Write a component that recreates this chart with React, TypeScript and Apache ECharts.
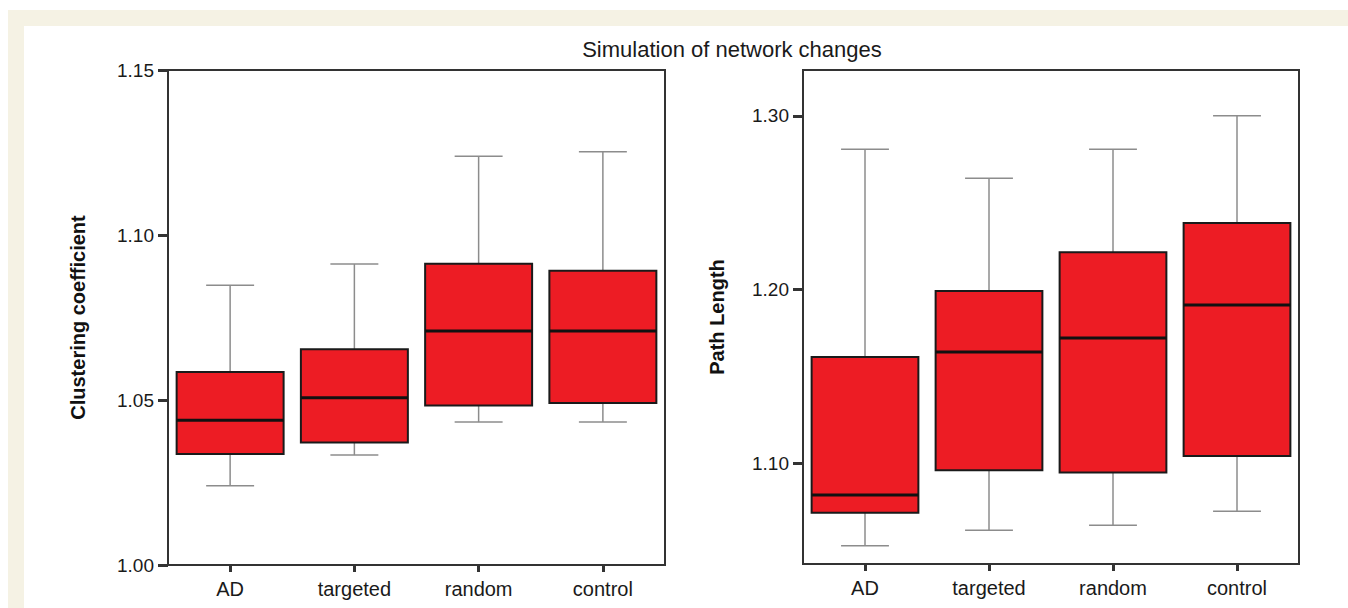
import React, { useEffect, useRef } from "react";
import * as echarts from "echarts";

const categories = ["AD", "targeted", "random", "control"];

// [low whisker, Q1, median, Q3, high whisker]
const clusteringValues = [
  [1.024, 1.0336, 1.0439, 1.0585, 1.0848],
  [1.0333, 1.0371, 1.0507, 1.0654, 1.0912],
  [1.0433, 1.0483, 1.0709, 1.0913, 1.1239],
  [1.0433, 1.0491, 1.0709, 1.0892, 1.1252],
];

const pathLengthValues = [
  [1.0523, 1.0714, 1.0816, 1.1611, 1.2808],
  [1.0612, 1.0958, 1.164, 1.1991, 1.2641],
  [1.0641, 1.0946, 1.172, 1.2214, 1.2808],
  [1.0722, 1.104, 1.1911, 1.2383, 1.3002],
];

const leftTicks = [1.0, 1.05, 1.1, 1.15];
const rightTicks = [1.1, 1.2, 1.3];

const FONT = "Liberation Sans, Arial, sans-serif";

function renderBox(params: any, api: any) {
  const x = api.value(0);
  const low = api.coord([x, api.value(1)]);
  const q1 = api.coord([x, api.value(2)]);
  const med = api.coord([x, api.value(3)]);
  const q3 = api.coord([x, api.value(4)]);
  const high = api.coord([x, api.value(5)]);
  const band = api.size([1, 0])[0];
  const bw = band * 0.861;
  const cw = band * 0.386;
  const cx = low[0];
  const wStyle = { stroke: "#8c8c8c", lineWidth: 1.5 };
  return {
    type: "group",
    children: [
      { type: "line", shape: { x1: cx, y1: q3[1], x2: cx, y2: high[1] }, style: wStyle },
      { type: "line", shape: { x1: cx, y1: q1[1], x2: cx, y2: low[1] }, style: wStyle },
      { type: "line", shape: { x1: cx - cw / 2, y1: high[1], x2: cx + cw / 2, y2: high[1] }, style: wStyle },
      { type: "line", shape: { x1: cx - cw / 2, y1: low[1], x2: cx + cw / 2, y2: low[1] }, style: wStyle },
      {
        type: "rect",
        shape: { x: cx - bw / 2, y: q3[1], width: bw, height: q1[1] - q3[1] },
        style: { fill: "#ed1c24", stroke: "#1a1a1a", lineWidth: 2 },
      },
      {
        type: "line",
        shape: { x1: cx - bw / 2, y1: med[1], x2: cx + bw / 2, y2: med[1] },
        style: { stroke: "#111", lineWidth: 3 },
      },
    ],
  };
}

function toData(vals: number[][]) {
  return vals.map((v, i) => [i, ...v]);
}

export default function App() {
  const ref = useRef<HTMLDivElement>(null);
  useEffect(() => {
    document.body.style.margin = "0";
    if (!ref.current) return;
    const chart = echarts.init(ref.current, undefined, { renderer: "svg" });
    const xAxisBase = (gi: number) => ({
      type: "category",
      gridIndex: gi,
      data: categories,
      boundaryGap: true,
      axisLine: { show: true, lineStyle: { color: "#333", width: 2 } },
      axisTick: { show: true, alignWithLabel: true, length: 7, lineStyle: { color: "#333", width: 3 } },
      axisLabel: { color: "#1a1a1a", fontSize: 20, fontFamily: FONT, margin: 14 },
      splitLine: { show: false },
    });
    const yAxisBase = (gi: number, min: number, max: number, ticks: number[], name: string) => ({
      type: "value",
      gridIndex: gi,
      min,
      max,
      name,
      nameLocation: "middle",
      nameGap: gi === 0 ? 80 : 76,
      nameTextStyle: { color: "#111", fontSize: 20, fontWeight: "bold", fontFamily: FONT },
      axisLine: { show: true, lineStyle: { color: "#333", width: 2 } },
      axisTick: { show: true, length: 10, customValues: ticks, lineStyle: { color: "#333", width: 3 } },
      axisLabel: {
        customValues: ticks,
        color: "#1a1a1a",
        fontSize: 19,
        fontFamily: FONT,
        margin: 14,
        formatter: (v: number) => v.toFixed(2),
      },
      splitLine: { show: false },
    });
    chart.setOption({
      animation: false,
      backgroundColor: "#ffffff",
      title: {
        text: "Simulation of network changes",
        left: 727,
        top: 33,
        textAlign: "center",
        textStyle: { color: "#1a1a1a", fontSize: 22, fontWeight: "normal", fontFamily: FONT },
      },
      graphic: [
        { type: "rect", z: -100, shape: { x: 8, y: 10, width: 1340, height: 598 }, style: { fill: "#f5f2e4" } },
        { type: "rect", z: -99, shape: { x: 24, y: 26, width: 1324, height: 582 }, style: { fill: "#ffffff" } },
      ],
      grid: [
        { left: 168, top: 70, width: 497, height: 495, show: true, borderColor: "#333", borderWidth: 2, backgroundColor: "transparent" },
        { left: 803, top: 70, width: 496, height: 494, show: true, borderColor: "#333", borderWidth: 2, backgroundColor: "transparent" },
      ],
      xAxis: [xAxisBase(0), xAxisBase(1)],
      yAxis: [
        yAxisBase(0, 1.0, 1.15, leftTicks, "Clustering coefficient"),
        yAxisBase(1, 1.0418, 1.3265, rightTicks, "Path Length"),
      ],
      series: [
        {
          type: "custom",
          name: "Clustering coefficient",
          xAxisIndex: 0,
          yAxisIndex: 0,
          renderItem: renderBox,
          encode: { x: 0, y: [1, 2, 3, 4, 5] },
          data: toData(clusteringValues),
        },
        {
          type: "custom",
          name: "Path Length",
          xAxisIndex: 1,
          yAxisIndex: 1,
          renderItem: renderBox,
          encode: { x: 0, y: [1, 2, 3, 4, 5] },
          data: toData(pathLengthValues),
        },
      ],
    });
    return () => chart.dispose();
  }, []);
  return <div ref={ref} style={{ width: 1348, height: 608 }} />;
}
